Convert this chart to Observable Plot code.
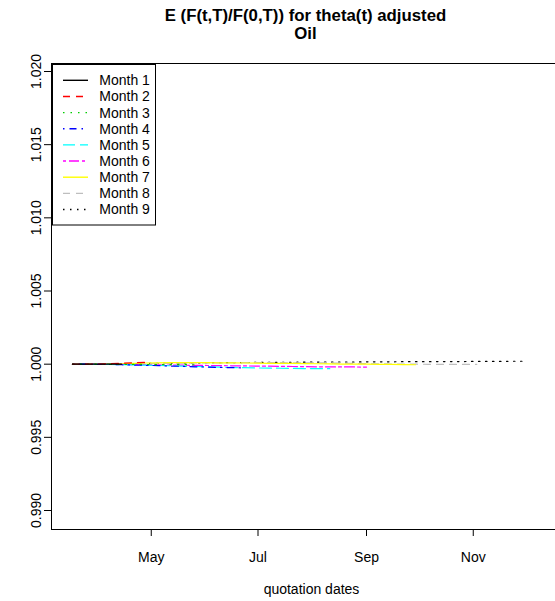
<!DOCTYPE html>
<html>
<head>
<meta charset="utf-8">
<script src="https://cdn.jsdelivr.net/npm/d3@7"></script>
<script src="https://cdn.jsdelivr.net/npm/@observablehq/plot@0.6"></script>
<style>
  html, body { margin: 0; padding: 0; background: #fff; }
  #chart svg { display: block; font-family: "Liberation Sans", Arial, Helvetica, sans-serif; }
</style>
</head>
<body>
<div id="chart"></div>
<script>
// Weekly quotation dates
const dates = ["2008-03-17","2008-03-24","2008-03-31","2008-04-07","2008-04-14","2008-04-21","2008-04-28",
  "2008-05-05","2008-05-12","2008-05-19","2008-05-26","2008-06-02","2008-06-09","2008-06-16","2008-06-23",
  "2008-06-30","2008-07-07","2008-07-14","2008-07-21","2008-07-28","2008-08-04","2008-08-11","2008-08-18",
  "2008-08-25","2008-09-01","2008-09-08","2008-09-15","2008-09-22","2008-09-29","2008-10-06","2008-10-13",
  "2008-10-20","2008-10-27","2008-11-03","2008-11-10","2008-11-17","2008-11-24","2008-12-01"];

const seriesNames = ["Month 1","Month 2","Month 3","Month 4","Month 5","Month 6","Month 7","Month 8","Month 9"];

const month1 = [1.00000,1.00000,1.00000,1.00000,1.00000];
const month2 = [1.00000,1.00000,1.00001,1.00003,1.00006,1.00009,1.00012];
const month3 = [1.00000,1.00000,1.00000,0.99999,0.99999,0.99998,0.99998,0.99997,0.99997,0.99997,0.99996];
const month4 = [1.00000,1.00000,0.99999,0.99998,0.99996,0.99994,0.99992,0.99990,0.99987,0.99985,0.99982,
  0.99980,0.99978,0.99976,0.99975];
const month5 = [1.00000,1.00000,0.99999,0.99998,0.99997,0.99995,0.99993,0.99991,0.99989,0.99986,0.99984,
  0.99982,0.99980,0.99978,0.99976,0.99974,0.99973,0.99972,0.99971,0.99970,0.99970,0.99969];
const month6 = [1.00000,1.00000,1.00000,0.99999,0.99998,0.99997,0.99996,0.99995,0.99994,0.99993,0.99992,
  0.99991,0.99990,0.99989,0.99988,0.99987,0.99986,0.99985,0.99984,0.99983,0.99982,0.99982,0.99981,0.99981,0.99980];
const month7 = [1.00000,1.00000,1.00000,1.00002,1.00004,1.00006,1.00008,1.00009,1.00010,1.00010,1.00010,
  1.00010,1.00009,1.00009,1.00008,1.00007,1.00006,1.00006,1.00005,1.00004,1.00003,1.00002,1.00001,1.00000,
  1.00000,0.99999,0.99998,0.99997,0.99996];
const month8 = [1.00000,1.00000,1.00000,1.00001,1.00002,1.00003,1.00004,1.00005,1.00006,1.00007,1.00008,
  1.00009,1.00009,1.00010,1.00010,1.00010,1.00010,1.00010,1.00009,1.00009,1.00009,1.00008,1.00007,1.00005,
  1.00003,1.00002,1.00001,1.00000,1.00000,0.99999,0.99999,0.99998,0.99998,0.99998];
const month9 = [1.00000,1.00000,1.00001,1.00002,1.00003,1.00004,1.00005,1.00006,1.00007,1.00008,1.00009,
  1.00010,1.00010,1.00011,1.00011,1.00012,1.00012,1.00013,1.00013,1.00014,1.00014,1.00015,1.00015,1.00015,
  1.00016,1.00016,1.00016,1.00017,1.00017,1.00017,1.00018,1.00018,1.00018,1.00019,1.00019,1.00019,1.00020,1.00020];

const seriesValues = [month1, month2, month3, month4, month5, month6, month7, month8, month9];

const xTickDates = ["2008-05-01","2008-07-01","2008-09-01","2008-11-01"];
const yTicks = [0.990, 0.995, 1.000, 1.005, 1.010, 1.015, 1.020];

const titleText = "E (F(t,T)/F(0,T)) for theta(t) adjusted";
const subtitleText = "Oil";
const xLabel = "quotation dates";

// styles (R palette / lty)
const colors = ["#000000","#FF0000","#00CD00","#0000FF","#00FFFF","#FF00FF","#FFFF00","#BEBEBE","#000000"];
const dashes = ["none","7,6","1.5,6","1.5,5,7,5","12,5","3,3,10,3","none","7,6","1.5,5.5"];

const data = [];
seriesValues.forEach((vals, i) => {
  vals.forEach((v, j) => data.push({series: seriesNames[i], idx: i, date: new Date(dates[j]), value: v}));
});

const xDomain = [new Date("2008-03-05"), new Date("2008-12-18")];
const yDomain = [0.988702, 1.020547];
const FONT = 14;

const lineMarks = seriesNames.map((name, i) =>
  Plot.line(data.filter(d => d.idx === i), {
    x: "date", y: "value", stroke: colors[i], strokeWidth: 1.2,
    strokeDasharray: dashes[i] === "none" ? null : dashes[i]
  })
);

const chart = Plot.plot({
  width: 555, height: 601,
  marginLeft: 51, marginRight: 0, marginTop: 63, marginBottom: 72,
  style: {fontFamily: '"Liberation Sans", Arial, Helvetica, sans-serif', fontSize: FONT + "px", background: "#fff"},
  x: {type: "utc", domain: xDomain},
  y: {domain: yDomain},
  marks: [
    ...lineMarks.slice().reverse(),
    Plot.ruleX([xDomain[0]], {stroke: "#000", strokeWidth: 1}),
    Plot.ruleY([yDomain[0], yDomain[1]], {stroke: "#000", strokeWidth: 1}),
    Plot.axisX({ticks: xTickDates.map(d => new Date(d)), tickFormat: d3.utcFormat("%b"),
      tickSize: 7, tickPadding: 16, fontSize: FONT, label: null, stroke: "#000", color: "#000"}),
    Plot.axisY({ticks: yTicks, tickSize: 7, tickFormat: () => "", label: null}),
    Plot.text(yTicks, {y: d => d, text: d => d.toFixed(3), frameAnchor: "left", dx: -11,
      rotate: -90, textAnchor: "middle", lineAnchor: "bottom", fontSize: FONT, fill: "#000"}),
    Plot.text([titleText], {frameAnchor: "top", dy: -54, dx: 2, fontWeight: "bold", fontSize: 16.8, fill: "#000"}),
    Plot.text([subtitleText], {frameAnchor: "top", dy: -36, dx: 2, fontWeight: "bold", fontSize: 16.8, fill: "#000"}),
    Plot.text([xLabel], {frameAnchor: "bottom", dy: 64, dx: 8, fontSize: FONT, fill: "#000"})
  ]
});

// Legend inside the plot, top-left
const svg = d3.select(chart);
const lg = svg.append("g").attr("text-anchor", "start");
lg.append("rect").attr("x", 52.5).attr("y", 64.5).attr("width", 103).attr("height", 160.5)
  .attr("fill", "#fff").attr("stroke", "#000").attr("stroke-width", 1);
seriesNames.forEach((name, i) => {
  const y = 80.3 + 16.15 * i;
  lg.append("line").attr("x1", 63).attr("x2", 88).attr("y1", y).attr("y2", y)
    .attr("stroke", colors[i]).attr("stroke-width", 1.4)
    .attr("stroke-dasharray", dashes[i] === "none" ? null : dashes[i]);
  lg.append("text").attr("x", 99.3).attr("y", y).attr("dy", "0.35em")
    .attr("text-anchor", "start")
    .attr("font-size", FONT).attr("fill", "#000").text(name);
});

document.getElementById("chart").appendChild(chart);
</script>
</body>
</html>
